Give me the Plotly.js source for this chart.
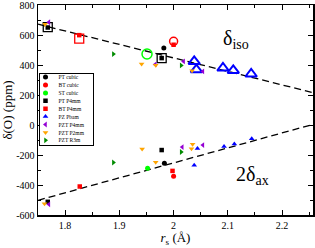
<!DOCTYPE html>
<html><head><meta charset="utf-8">
<script src="https://cdn.plot.ly/plotly-3.0.1.min.js"></script>
<style>html,body{margin:0;padding:0;background:#fff;} #plot{width:315px;height:248px;}</style>
</head><body><div id="plot"></div>
<script>
// ---- data (r_s in Angstrom, delta in ppm) ----
const seriesNames = ['PT cubic','BT cubic','ST cubic','PT P4mm','BT P4mm','PZ Pbam','PZT P4mm','PZT P2mm','PZT R3m'];

const ptCubicR = [1.982, 1.983];
const ptCubicD = [513, -255];
const btCubicR = [2.0];
const btCubicD = [-341];
const stCubicR = [1.952];
const stCubicD = [-288];
const ptP4mmR = [1.768, 1.978, 1.768, 1.978];
const ptP4mmD = [650, 446, -512, -167];
const btP4mmR = [1.826, 2.0, 1.827, 1.998];
const btP4mmD = [599, 535, -410, -306];
const pzPbamR = [2.038, 2.044, 2.093, 2.112, 2.144];
const pzPbamD = [-268, -156, -144, -127, -91];
const pztP4mmR = [1.770, 1.966, 2.0185, 2.054, 1.770, 2.016, 2.054];
const pztP4mmD = [685, 404, 424, 357, -529, -147, -134];
const pztP2mmR = [1.763, 1.941, 1.967, 2.034, 1.762, 1.942, 1.967, 2.035, 2.033];
const pztP2mmD = [672, 407, 398, 362, -525, -160, -248, -129, -158];
const pztR3mR = [1.889, 2.014, 1.889, 2.014];
const pztR3mD = [473, 397, -250, -180];

// large open symbols (delta_iso)
const openSqBlackR = [1.768, 1.978];
const openSqBlackD = [652, 446];
const openSqRedR = [1.826];
const openSqRedD = [576];
const openCircRedR = [2.0];
const openCircRedD = [558];
const openCircGreenR = [1.951];
const openCircGreenD = [473];
const openTriBlueR = [2.038, 2.042, 2.091, 2.11, 2.143];
const openTriBlueD = [424, 369, 380, 364, 340];

// dashed trend lines (end points)
const isoLineR = [1.75, 2.257];
const isoLineD = [672, 216];
const axLineR = [1.75, 2.257];
const axLineD = [-502, 4];

const xTickVals = [1.8, 1.9, 2.0, 2.1, 2.2];
const xTickText = ['1.8', '1.9', '2', '2.1', '2.2'];
const yTickVals = [-600, -400, -200, 0, 200, 400, 600, 800];
const yTickText = ['-600', '-400', '-200', '0', '200', '400', '600', '800'];
const yRange = [-600, 800];

// ---- styles ----
const C = {black:'#000000', red:'#ff0000', green:'#00ff00', blue:'#0000ff', violet:'#9400d3', orange:'#ffa500', green4:'#008b00'};
const FONT = 'Liberation Serif, Times New Roman, serif';

const traces = [];
traces.push({x: isoLineR, y: isoLineD, mode:'lines', line:{color:'#000', width:1.3, dash:'7px,4px'}, showlegend:false, hoverinfo:'skip'});
traces.push({x: axLineR, y: axLineD, mode:'lines', line:{color:'#000', width:1.3, dash:'7px,4px'}, showlegend:false, hoverinfo:'skip'});

function openT(x, y, sym, color, size, lw){
  return {x:x, y:y, mode:'markers', showlegend:false, marker:{symbol:sym, size:size, color:color, line:{color:color, width:lw}}};
}
traces.push(openT(openSqBlackR, openSqBlackD, 'square-open', C.black, 9, 1.3));
traces.push(openT(openSqRedR, openSqRedD, 'square-open', C.red, 9, 1.3));
traces.push(openT(openCircRedR, openCircRedD, 'circle-open', C.red, 8, 1.5));
traces.push(openT(openCircGreenR, openCircGreenD, 'circle-open', C.green, 10, 1.5));
traces.push(openT(openTriBlueR, openTriBlueD, 'triangle-up-open', C.blue, 10, 2));

const filled = [
  [ptCubicR, ptCubicD, 'circle', C.black, 5],
  [btCubicR, btCubicD, 'circle', C.red, 5],
  [stCubicR, stCubicD, 'circle', C.green, 5],
  [ptP4mmR, ptP4mmD, 'square', C.black, 4.5],
  [btP4mmR, btP4mmD, 'square', C.red, 4.5],
  [pzPbamR, pzPbamD, 'triangle-up', C.blue, 5],
  [pztP4mmR, pztP4mmD, 'triangle-left', C.violet, 5],
  [pztP2mmR, pztP2mmD, 'triangle-down', C.orange, 5],
  [pztR3mR, pztR3mD, 'triangle-right', C.green4, 5]
];
filled.forEach(function(f, i){
  traces.push({x:f[0], y:f[1], name:seriesNames[i], mode:'markers',
    marker:{symbol:f[2], size:f[4], color:f[3], line:{width:0}}});
});

const axisCommon = {showline:true, linecolor:'#000', linewidth:1.5, mirror:'allticks', ticks:'inside', ticklen:5, tickwidth:1, tickcolor:'#000',
  showgrid:false, zeroline:false, ticklabeloverflow:'allow', tickfont:{family:FONT, size:10, color:'#000'}};

const topIdx = yTickVals.length - 1;

const layout = {
  width:315, height:248,
  margin:{l:38, r:2, t:5, b:33},
  paper_bgcolor:'#fff', plot_bgcolor:'#fff',
  showlegend:true,
  xaxis: Object.assign({}, axisCommon, {range:[1.75, 2.257], tickmode:'array', tickvals:xTickVals, ticktext:xTickText,
    minor:{tickmode:'linear', tick0:1.75, dtick:0.05, ticks:'inside', ticklen:3, tickwidth:1, tickcolor:'#000', showgrid:false},
    title:{text:'<i>r</i><sub>s</sub> (Å)', font:{family:FONT, size:13, color:'#000'}, standoff:2}}),
  yaxis: Object.assign({}, axisCommon, {range:yRange, tickmode:'array', tickvals:yTickVals, ticktext:yTickText,
    minor:{tickmode:'linear', tick0:-600, dtick:100, ticks:'inside', ticklen:3, tickwidth:1, tickcolor:'#000', showgrid:false},
    title:{text:'δ(O) (ppm)', font:{family:FONT, size:13, color:'#000'}, standoff:2}}),
  legend:{x:0, y:1, xanchor:'left', yanchor:'top', bgcolor:'#fff', bordercolor:'#000', borderwidth:1,
    font:{family:FONT, size:5.5, color:'#000'}},
  annotations:[
    {x:2.088, y:568, xref:'x', yref:'y', text:'δ<sub>iso</sub>', showarrow:false, xanchor:'left', yanchor:'middle',
      font:{family:FONT, size:20, color:'#000'}},
    {x:2.111, y:-335, xref:'x', yref:'y', text:'2δ<sub>ax</sub>', showarrow:false, xanchor:'left', yanchor:'middle',
      font:{family:FONT, size:20, color:'#000'}}
  ]
};

const gd = document.getElementById('plot');
Plotly.newPlot(gd, traces, layout, {staticPlot:true, displayModeBar:false}).then(function(){
  // top y tick label: Plotly drops it at the figure edge, so re-add it at the axis' own pixel position
  const ya = gd._fullLayout.yaxis, xa = gd._fullLayout.xaxis;
  const labels = Array.from(gd.querySelectorAll('g.ytick text'));
  const shown = labels.some(function(t){
    return t.textContent === yTickText[topIdx] && getComputedStyle(t).display !== 'none' && t.getBBox().width > 0;
  });
  if(!shown){
    const svg = gd.querySelector('svg.main-svg');
    const t = document.createElementNS('http://www.w3.org/2000/svg', 'text');
    t.setAttribute('x', xa._offset - 2);
    t.setAttribute('y', ya._offset + ya.l2p(yTickVals[topIdx]) + 3.5);
    t.setAttribute('text-anchor', 'end');
    t.setAttribute('style', 'font-family:' + FONT + ';font-size:10px;fill:#000;');
    t.textContent = yTickText[topIdx];
    svg.appendChild(t);
  }

  const leg = gd.querySelector('g.legend');
  if(!leg) return;
  const items = leg.querySelectorAll('g.traces');
  const step = 7.9, top = 4.6;
  items.forEach(function(it, i){
    it.setAttribute('transform', 'translate(0,' + (top + i*step) + ')');
    const tx = it.querySelector('text.legendtext');
    if(tx) tx.setAttribute('x', 20);
    it.querySelectorAll('path.scatterpts').forEach(function(p){ p.setAttribute('transform', 'translate(7,0)'); });
  });
  const bg = leg.querySelector('rect.bg');
  if(bg){ bg.setAttribute('width', 54); bg.setAttribute('height', top + 8*step + 4.2); }
  leg.setAttribute('transform', 'translate(38.5,72.5)');
});
</script></body></html>
